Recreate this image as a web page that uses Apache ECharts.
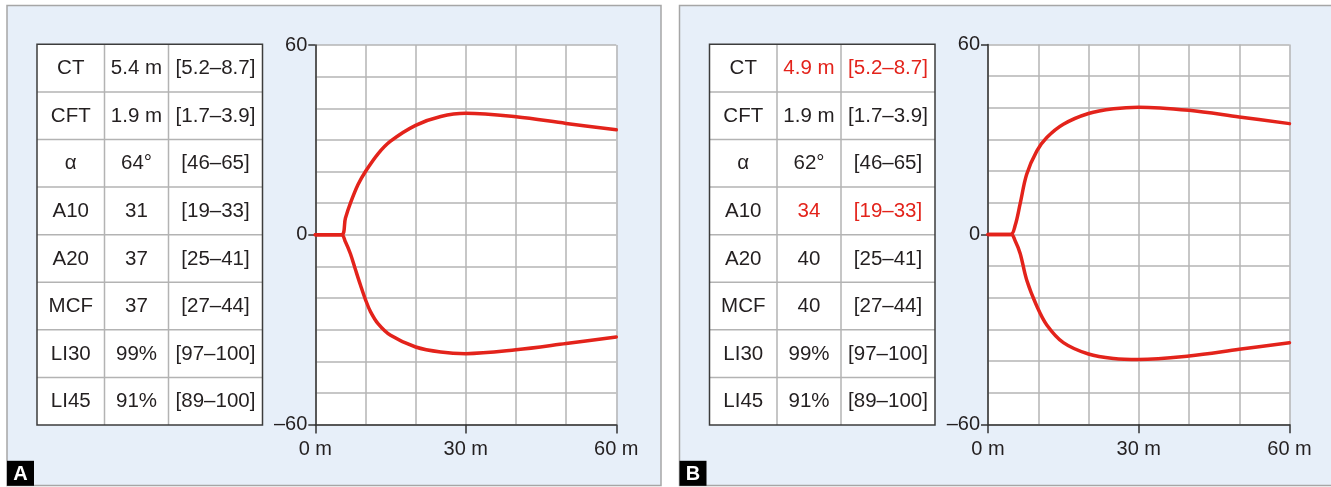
<!DOCTYPE html>
<html>
<head>
<meta charset="utf-8">
<title>Clot profiles</title>
<script src="https://cdn.jsdelivr.net/npm/echarts@6/dist/echarts.min.js"></script>
<style>
  html, body { margin: 0; padding: 0; background: #ffffff; }
  #chart { width: 1331px; height: 487px; }
</style>
</head>
<body>
<div id="chart"></div>
<script>
// Table contents
const rowLabels = ['CT', 'CFT', 'α', 'A10', 'A20', 'MCF', 'LI30', 'LI45'];
const valuesA = ['5.4 m', '1.9 m', '64°', '31', '37', '37', '99%', '91%'];
const valuesB = ['4.9 m', '1.9 m', '62°', '34', '40', '40', '99%', '91%'];
const ranges = ['[5.2–8.7]', '[1.7–3.9]', '[46–65]', '[19–33]', '[25–41]', '[27–44]', '[97–100]', '[89–100]'];
const flaggedA = [false, false, false, false, false, false, false, false];
const flaggedB = [true, false, false, true, false, false, false, false];

// Axis tick labels
const xTickLabels = { 0: '0 m', 30: '30 m', 60: '60 m' };
const yTickLabels = { 60: '60', 0: '0', '-60': '–60' };

// Amplitude traces (time in minutes vs amplitude, mirrored about 0)
const upperA_t = [0, 5.2, 6, 7, 8.5, 10, 12.5, 15, 20, 25, 30, 40, 50, 60];
const upperA_v = [0, 0, 5.2, 10, 15.8, 20, 25.6, 29.6, 34.6, 37.4, 38.4, 37.3, 35.2, 33.2];
const lowerA_t = [0, 5.2, 6, 7, 8, 9, 10, 11, 12.5, 15, 20, 25, 30, 40, 50, 60];
const lowerA_v = [0, 0, -2.2, -6, -11, -15.9, -20.5, -24.3, -28.1, -31.8, -35.5, -37.1, -37.6, -36.4, -34.4, -32.3];

const upperB_t = [0, 4.5, 5.4, 6.4, 7.7, 9.7, 11.7, 15, 20, 25, 30, 40, 50, 60];
const upperB_v = [0, 0, 2.8, 9.7, 19, 26.3, 30.6, 34.8, 38.2, 39.7, 40.2, 39.2, 37.1, 35];
const lowerB_t = [0, 4.6, 5.4, 6.4, 7.7, 9.7, 11.7, 15, 20, 25, 30, 40, 50, 60];
const lowerB_v = [0, 0, -2, -6, -14.4, -22.6, -28.6, -34.2, -37.8, -39.2, -39.5, -38.4, -36.3, -34.2];

const FONT = '"Liberation Sans", Arial, Helvetica, sans-serif';
const TEXT = '#231f20';
const RED = '#e3231b';
const PANEL_BG = '#e7eff9';
const GRID_LINE = '#b5b5b5';

const chart = echarts.init(document.getElementById('chart'), null, { renderer: 'canvas' });

function zip(xs, ys) { return xs.map((x, i) => [x, ys[i]]); }

// panel frame, table and letter badge for one panel
function panelGraphics(ox, panelW, letter, values, flagged) {
  const els = [];
  els.push({ type: 'rect', z: -10, shape: { x: ox + 7, y: 5.5, width: panelW, height: 480 },
    style: { fill: PANEL_BG, stroke: '#a6a6a6', lineWidth: 1.5 } });

  const tx = ox + 37, ty = 44.3;
  const colW = [67.5, 64, 94];
  const rowH = (425 - 44.3) / rowLabels.length;
  const colX = [tx, tx + colW[0], tx + colW[0] + colW[1]];
  const tableW = colW[0] + colW[1] + colW[2];

  els.push({ type: 'rect', z: 1, shape: { x: tx, y: ty, width: tableW, height: rowH * rowLabels.length },
    style: { fill: '#ffffff', stroke: null } });
  // inner lines
  for (let i = 1; i < rowLabels.length; i++) {
    els.push({ type: 'line', z: 2, shape: { x1: tx, y1: ty + i * rowH, x2: tx + tableW, y2: ty + i * rowH },
      style: { stroke: '#b3b3b3', lineWidth: 1.5 } });
  }
  for (let c = 1; c < 3; c++) {
    els.push({ type: 'line', z: 2, shape: { x1: colX[c], y1: ty, x2: colX[c], y2: ty + rowH * rowLabels.length },
      style: { stroke: '#b3b3b3', lineWidth: 1.5 } });
  }
  els.push({ type: 'rect', z: 3, shape: { x: tx, y: ty, width: tableW, height: rowH * rowLabels.length },
    style: { fill: null, stroke: '#3c3c3c', lineWidth: 1.5 } });

  rowLabels.forEach((lab, i) => {
    const cy = ty + rowH * (i + 0.5);
    const cells = [lab, values[i], ranges[i]];
    cells.forEach((txt, c) => {
      const red = c > 0 && flagged[i];
      els.push({ type: 'text', z: 4, x: colX[c] + colW[c] / 2, y: cy + 0.5,
        style: { text: txt, fill: red ? RED : TEXT, font: '20.5px ' + FONT, align: 'center', verticalAlign: 'middle' } });
    });
  });

  els.push({ type: 'rect', z: 5, shape: { x: ox + 7, y: 460.8, width: 27, height: 25 },
    style: { fill: '#000000' } });
  els.push({ type: 'text', z: 6, x: ox + 20.5, y: 474, style: { text: letter, fill: '#ffffff',
    font: 'bold 20px ' + FONT, align: 'center', verticalAlign: 'middle' } });
  return els;
}

function xAxisFor(gridIndex) {
  return {
    type: 'value', gridIndex, min: 0, max: 60, interval: 30,
    axisLine: { show: true, onZero: false, lineStyle: { color: '#333333', width: 1.5 } },
    axisTick: { show: true, length: 9, lineStyle: { color: '#333333', width: 1.5 } },
    axisLabel: { show: true, margin: 15, color: TEXT, fontSize: 20, fontFamily: FONT,
      formatter: v => xTickLabels[v] || '' },
    splitLine: { show: true, lineStyle: { color: GRID_LINE, width: 1.5 } },
    minorTick: { show: false, splitNumber: 3 },
    minorSplitLine: { show: true, lineStyle: { color: GRID_LINE, width: 1.5 } }
  };
}

function yAxisFor(gridIndex) {
  return {
    type: 'value', gridIndex, min: -60, max: 60, interval: 60,
    axisLine: { show: true, onZero: false, lineStyle: { color: '#333333', width: 1.5 } },
    axisTick: { show: true, length: 7, lineStyle: { color: '#333333', width: 1.5 } },
    axisLabel: { show: true, margin: 8, color: TEXT, fontSize: 20, fontFamily: FONT,
      formatter: v => yTickLabels[v] || '' },
    splitLine: { show: true, lineStyle: { color: GRID_LINE, width: 1.5 } },
    minorTick: { show: false, splitNumber: 6 },
    minorSplitLine: { show: true, lineStyle: { color: GRID_LINE, width: 1.5 } }
  };
}

function trace(data, idx) {
  return {
    type: 'line', xAxisIndex: idx, yAxisIndex: idx, data,
    smooth: 0.35, symbol: 'none', silent: true, z: 5,
    lineStyle: { color: RED, width: 3.5, cap: 'round', join: 'round' }
  };
}

const option = {
  animation: false,
  backgroundColor: '#ffffff',
  grid: [
    { left: 315.3, top: 45, width: 301, height: 379.5, show: true, backgroundColor: '#ffffff', borderWidth: 0 },
    { left: 988, top: 44.5, width: 301.5, height: 379.8, show: true, backgroundColor: '#ffffff', borderWidth: 0 }
  ],
  xAxis: [xAxisFor(0), xAxisFor(1)],
  yAxis: [yAxisFor(0), yAxisFor(1)],
  series: [
    trace(zip(upperA_t, upperA_v), 0),
    trace(zip(lowerA_t, lowerA_v), 0),
    trace(zip(upperB_t, upperB_v), 1),
    trace(zip(lowerB_t, lowerB_v), 1)
  ],
  graphic: [
    ...panelGraphics(0, 654, 'A', valuesA, flaggedA),
    ...panelGraphics(672.5, 660, 'B', valuesB, flaggedB)
  ]
};

chart.setOption(option);
</script>
</body>
</html>
